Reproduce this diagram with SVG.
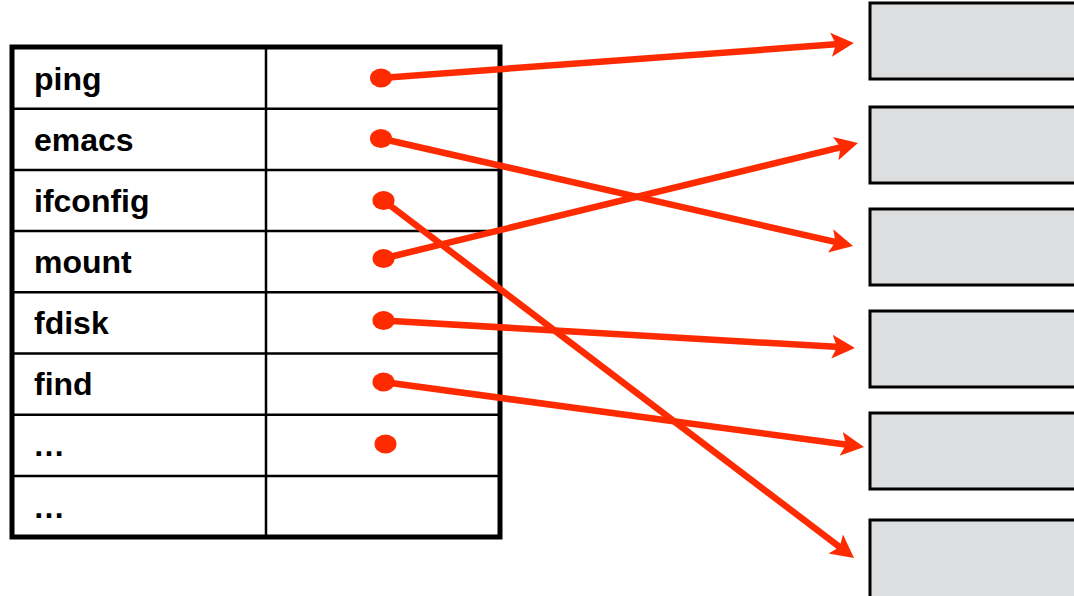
<svg xmlns="http://www.w3.org/2000/svg" width="1074" height="596" viewBox="0 0 1074 596">
<style>
.lbl{font-family:"Liberation Sans",Arial,sans-serif;font-weight:bold;font-size:32px;fill:#000}
.grid{stroke:#000;stroke-width:2.5;fill:none}
.box{fill:#DDDEE0;stroke:#000;stroke-width:3}
.dot{fill:#FF2B00}
.conn{stroke:#FF2B00;stroke-width:6.5;fill:none;marker-end:url(#ah)}
</style>
<defs>
<marker id="ah" markerUnits="userSpaceOnUse" viewBox="0 -13 24 26" markerWidth="24" markerHeight="26" refX="8" refY="0" orient="auto">
<path d="M0,-12 L23,0 L0,12 L5,0 Z" fill="#FF2B00"/>
</marker>
</defs>
<rect width="1074" height="596" fill="#fff"/>
<g id="table">
<rect x="12" y="47" width="488" height="490" fill="#fff" stroke="#000" stroke-width="5"/>
<path class="grid" d="M12,108.7H500M12,169.9H500M12,231.1H500M12,292.3H500M12,353.5H500M12,414.7H500M12,475.9H500M266,47V537"/>
</g>
<g id="row-ping"><text class="lbl" x="34" y="90">ping</text><ellipse class="dot" cx="381" cy="78" rx="11" ry="9.5"/></g>
<g id="row-emacs"><text class="lbl" x="34" y="151">emacs</text><ellipse class="dot" cx="381" cy="138.5" rx="11" ry="9.5"/></g>
<g id="row-ifconfig"><text class="lbl" x="34" y="212">ifconfig</text><ellipse class="dot" cx="383.5" cy="200.5" rx="11" ry="9.5"/></g>
<g id="row-mount"><text class="lbl" x="34" y="273">mount</text><ellipse class="dot" cx="383.5" cy="258.5" rx="11" ry="9.5"/></g>
<g id="row-fdisk"><text class="lbl" x="34" y="334">fdisk</text><ellipse class="dot" cx="383.5" cy="320.5" rx="11" ry="9.5"/></g>
<g id="row-find"><text class="lbl" x="34" y="395">find</text><ellipse class="dot" cx="383.5" cy="382" rx="11" ry="9.5"/></g>
<g id="row-more1"><text class="lbl" x="33" y="456">…</text><ellipse class="dot" cx="385.5" cy="444" rx="11" ry="9.5"/></g>
<g id="row-more2"><text class="lbl" x="33" y="518">…</text></g>
<g id="box1"><rect class="box" x="870" y="3" width="210" height="76"/></g>
<g id="box2"><rect class="box" x="870" y="107" width="210" height="76"/></g>
<g id="box3"><rect class="box" x="870" y="209" width="210" height="76"/></g>
<g id="box4"><rect class="box" x="870" y="311" width="210" height="76"/></g>
<g id="box5"><rect class="box" x="870" y="413" width="210" height="76"/></g>
<g id="box6"><rect class="box" x="870" y="520" width="210" height="90"/></g>
<g id="connectors">
<path class="conn" d="M381,78 L839,44.1"/>
<path class="conn" d="M381,138.5 L838.4,242.7"/>
<path class="conn" d="M383.5,200.5 L842.1,548.9"/>
<path class="conn" d="M383.5,258.5 L843.4,146.6"/>
<path class="conn" d="M383.5,320.5 L840,347.1"/>
<path class="conn" d="M383.5,382 L849.1,445"/>
</g>
</svg>
